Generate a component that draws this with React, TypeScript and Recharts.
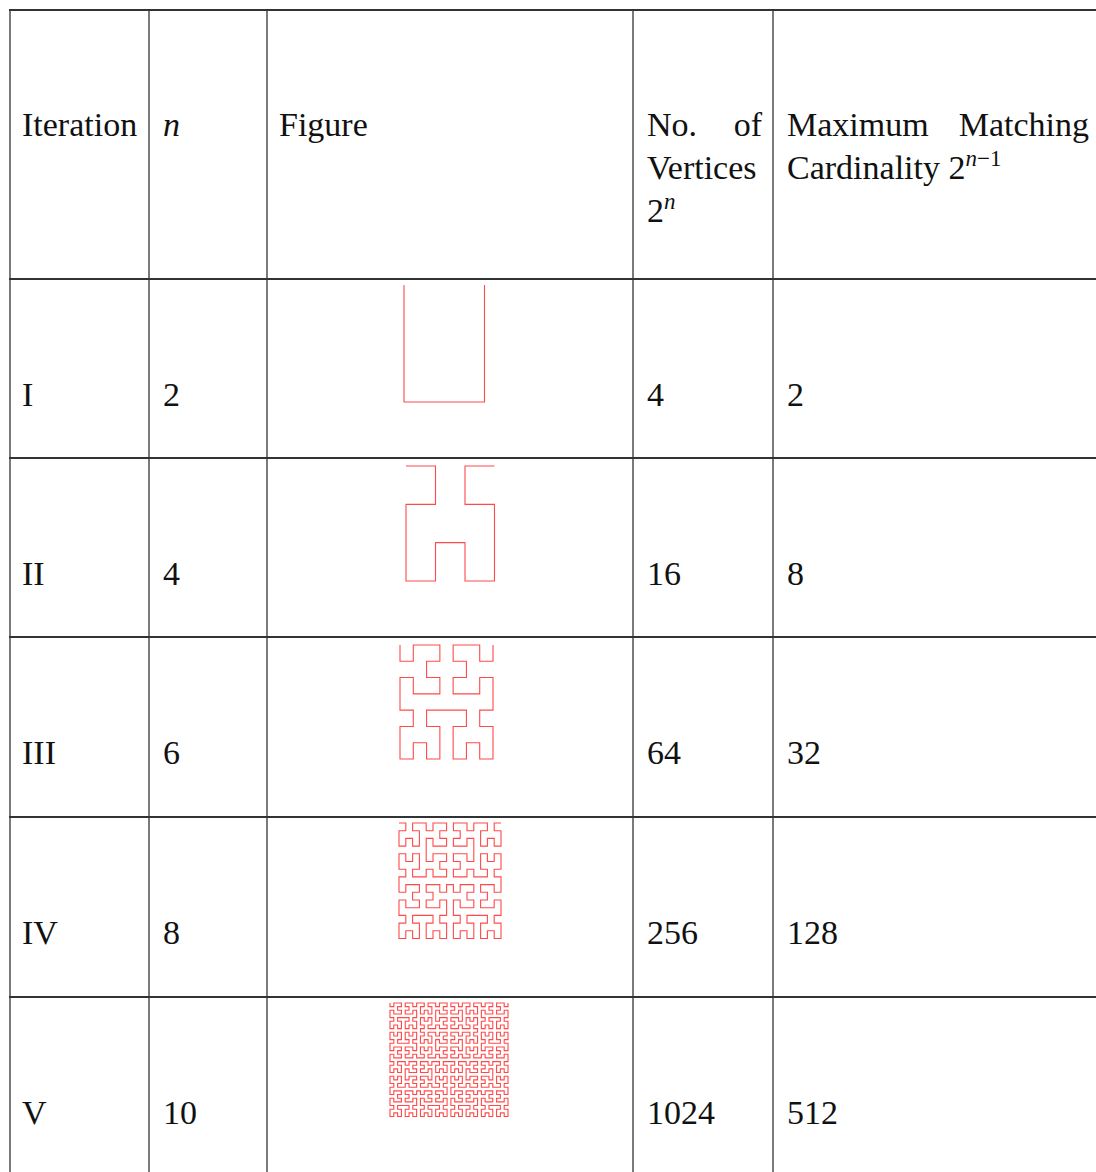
import React from 'react';
import { LineChart, Line, XAxis, YAxis } from 'recharts';

// ---- data ----
const ITERATIONS = ['I', 'II', 'III', 'IV', 'V'];
const N_VALUES = ['2', '4', '6', '8', '10'];
const VERTICES = ['4', '16', '64', '256', '1024'];
const MATCHING = ['2', '8', '32', '128', '512'];
const CURVE_ORDERS = [1, 2, 3, 4, 5];

// Hilbert curve vertex sequence (index -> grid cell) for a given order
function hilbertPoints(order: number) {
  const n = 1 << order;
  const pts: { x: number; y: number }[] = [];
  for (let d = 0; d < n * n; d++) {
    let t = d;
    let x = 0;
    let y = 0;
    for (let s = 1; s < n; s *= 2) {
      const rx = 1 & Math.floor(t / 2);
      const ry = 1 & (t ^ rx);
      if (ry === 0) {
        if (rx === 1) {
          x = s - 1 - x;
          y = s - 1 - y;
        }
        const tmp = x;
        x = y;
        y = tmp;
      }
      x += s * rx;
      y += s * ry;
      t = Math.floor(t / 4);
    }
    pts.push({ x, y });
  }
  return pts;
}

// ---- layout ----
const COL_X = [10, 149, 267, 633, 773];
const ROW_Y = [10, 279, 458, 637, 817, 997];
const TEXT_X = [22, 163, 647, 787];
const FIG_BOX = [
  [404, 284.5, 484.5, 401.5],
  [405.5, 466, 494, 581],
  [399.5, 644.5, 492.5, 758.5],
  [398.5, 823, 500.5, 938.5],
  [389.5, 1002.5, 507.5, 1116],
];
const FONT = '"Liberation Serif", "Times New Roman", serif';
const FS = 34;

function Figure({ order, box }: { order: number; box: number[] }) {
  const data = hilbertPoints(order);
  const n = (1 << order) - 1;
  const pad = 2;
  const w = box[2] - box[0];
  const h = box[3] - box[1];
  return (
    <div style={{ position: 'absolute', left: box[0] - pad, top: box[1] - pad }}>
      <LineChart
        width={w + 2 * pad}
        height={h + 2 * pad}
        data={data}
        margin={{ top: pad, right: pad, bottom: pad, left: pad }}
      >
        <XAxis type="number" dataKey="x" domain={[0, n]} hide />
        <YAxis type="number" dataKey="y" domain={[0, n]} reversed hide />
        <Line
          type="linear"
          dataKey="y"
          stroke="#ff2a2a"
          strokeWidth={1.1}
          strokeOpacity={0.85}
          dot={false}
          isAnimationActive={false}
        />
      </LineChart>
    </div>
  );
}

export default function App() {
  const sup = (s: string) => (
    <tspan dy={-13} fontSize={23} fontStyle="italic">
      {s}
    </tspan>
  );
  return (
    <div style={{ position: 'absolute', left: 0, top: 0, width: 1096, height: 1172, background: '#fff', overflow: 'hidden' }}>
      <svg width={1096} height={1172} style={{ position: 'absolute', left: 0, top: 0 }}>
        {COL_X.map((x) => (
          <line key={'v' + x} x1={x} x2={x} y1={9} y2={1172} stroke="#222" strokeWidth={1.2} />
        ))}
        {ROW_Y.map((y) => (
          <line key={'h' + y} x1={9} x2={1096} y1={y} y2={y} stroke="#333" strokeWidth={1.8} />
        ))}
        <g fontFamily={FONT} fontSize={FS} fill="#111">
          <text x={TEXT_X[0]} y={136}>Iteration</text>
          <text x={TEXT_X[1]} y={136} fontStyle="italic">n</text>
          <text x={279} y={136}>Figure</text>
          <text x={TEXT_X[2]} y={136}>No.</text>
          <text x={762} y={136} textAnchor="end">of</text>
          <text x={TEXT_X[2]} y={179}>Vertices</text>
          <text x={TEXT_X[2]} y={222}>2{sup('n')}</text>
          <text x={TEXT_X[3]} y={136}>Maximum</text>
          <text x={1089} y={136} textAnchor="end">Matching</text>
          <text x={TEXT_X[3]} y={179}>
            Cardinality 2
            <tspan dy={-13} fontSize={23}>
              <tspan fontStyle="italic">n</tspan>−1
            </tspan>
          </text>
          {ITERATIONS.map((it, i) => {
            const base = ROW_Y[i + 1] + 127;
            return (
              <g key={it}>
                <text x={TEXT_X[0]} y={base}>{it}</text>
                <text x={TEXT_X[1]} y={base}>{N_VALUES[i]}</text>
                <text x={TEXT_X[2]} y={base}>{VERTICES[i]}</text>
                <text x={TEXT_X[3]} y={base}>{MATCHING[i]}</text>
              </g>
            );
          })}
        </g>
      </svg>
      {CURVE_ORDERS.map((o, i) => (
        <Figure key={o} order={o} box={FIG_BOX[i]} />
      ))}
    </div>
  );
}
